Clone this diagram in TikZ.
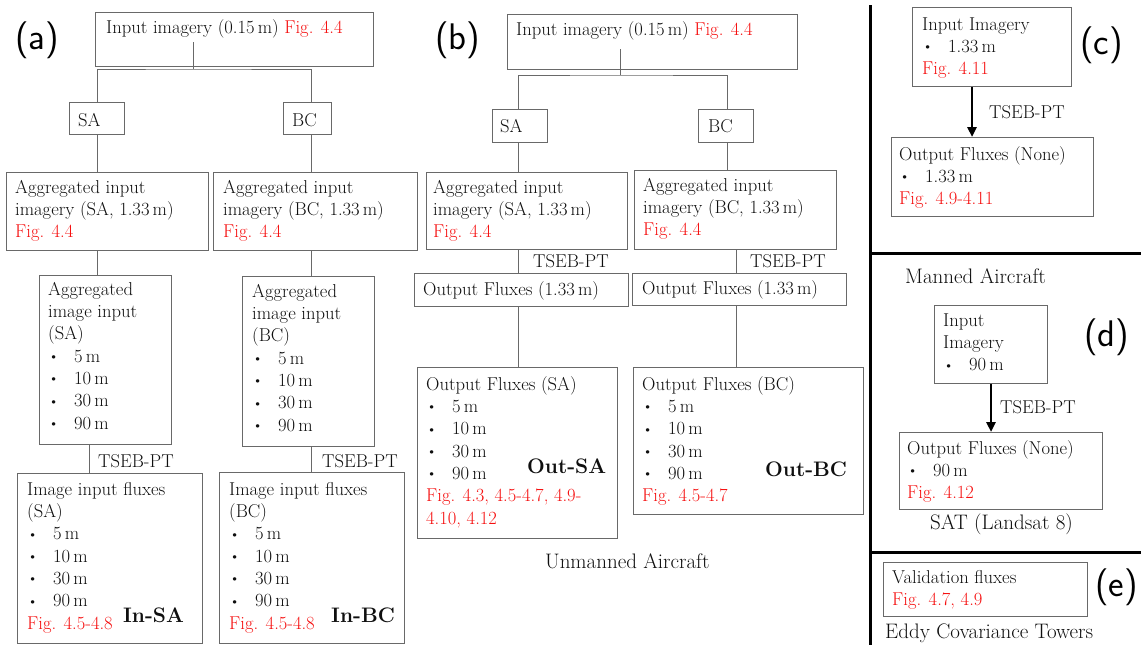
\documentclass[tikz,border=0pt]{standalone}
\usetikzlibrary{arrows.meta}
\definecolor{ink}{RGB}{15,15,15}
\definecolor{figred}{RGB}{245,15,15}
\definecolor{framegray}{RGB}{105,105,105}
% strut that fixes the height of a first line
\newcommand{\tsr}{\rule{0pt}{14pt}}
\newcommand{\redfig}[1]{\textcolor{figred}{#1}}
\newcommand{\itm}[1]{\makebox[26pt][l]{\raisebox{0.6pt}{\fontsize{15.5}{15.5}\selectfont\textbullet}}#1}
\tikzset{
  box/.style={draw=framegray, line width=1pt, inner sep=0pt, anchor=north west},
  link/.style={draw=framegray, line width=1pt},
  body/.style={inner sep=0pt, anchor=north west, align=left, text=ink,
    font=\fontsize{18.6}{22.3}\selectfont},
  lbl/.style={inner sep=0pt, anchor=base west, text=ink,
    font=\fontsize{18.6}{22.3}\selectfont},
  boldtag/.style={inner sep=0pt, anchor=base west, text=ink,
    font=\bfseries\fontsize{21}{24}\selectfont},
  captext/.style={inner sep=0pt, anchor=base west, text=ink,
    font=\fontsize{21}{24}\selectfont},
  panel/.style={inner sep=0pt, anchor=base west, text=black,
    font=\sffamily\fontsize{37}{40}\selectfont},
  sepline/.style={line width=3pt, black},
  flow/.style={line width=2.6pt, black, -{Triangle[length=10pt,width=9pt]}}
}
\begin{document}
\begin{tikzpicture}[x=1pt,y=-1pt]
\useasboundingbox (0,0) rectangle (1141,645);

% ---------------- (a) ----------------
\node[panel] (a-tag) at (15,49) {(a)};
\node[box, minimum width=278, minimum height=54] (a-in) at (95,12) {};
\node[box, minimum width=55, minimum height=32] (a-sa) at (69,102) {};
\node[box, minimum width=48, minimum height=32] (a-bc) at (283,102) {};
\node[box, minimum width=202, minimum height=78] (a-agSA) at (6,172) {};
\node[box, minimum width=204, minimum height=78] (a-agBC) at (213,172) {};
\node[box, minimum width=132, minimum height=169] (a-imSA) at (39,275) {};
\node[box, minimum width=132, minimum height=170] (a-imBC) at (242,276) {};
\node[box, minimum width=185, minimum height=170] (a-flSA) at (17,473) {};
\node[box, minimum width=185, minimum height=171] (a-flBC) at (219,472) {};

\coordinate (a-stem) at (193,42);
\coordinate (a-split) at (193,69);
\coordinate (a-colL) at (97,0);
\coordinate (a-colR) at (311,0);
\coordinate (a-tL) at (89,0);
\draw[link] (a-stem) -- (a-split);
\draw[link] (a-sa.north -| a-colL) |- (a-split) -| (a-bc.north -| a-colR);
\draw[link] (a-sa.south -| a-colL) -- (a-agSA.north -| a-colL);
\draw[link] (a-bc.south -| a-colR) -- (a-agBC.north -| a-colR);
\draw[link] (a-agSA.south -| a-colL) -- (a-imSA.north -| a-colL);
\draw[link] (a-agBC.south -| a-colR) -- (a-imBC.north -| a-colR);
\draw[link] (a-imSA.south -| a-tL) -- (a-flSA.north -| a-tL);
\draw[link] (a-imBC.south -| a-colR) -- (a-flBC.north -| a-colR);

\node[lbl] (a-in-t) at (106,33) {Input imagery (0.15\,m) \redfig{Fig. 4.4}};
\node[lbl] (a-sa-t) at (78,126) {SA};
\node[lbl] (a-bc-t) at (292,126) {BC};
\node[body] (a-agSA-t) at (15,179) {\tsr Aggregated input\\imagery (SA, 1.33\,m)\\\redfig{Fig. 4.4}};
\node[body] (a-agBC-t) at (223,179) {\tsr Aggregated input\\imagery (BC, 1.33\,m)\\\redfig{Fig. 4.4}};
\node[body] (a-imSA-t) at (48,281) {\tsr Aggregated\\image input\\(SA)\\\itm{5\,m}\\\itm{10\,m}\\\itm{30\,m}\\\itm{90\,m}};
\node[body] (a-imBC-t) at (252,283) {\tsr Aggregated\\image input\\(BC)\\\itm{5\,m}\\\itm{10\,m}\\\itm{30\,m}\\\itm{90\,m}};
\node[lbl] (a-tsL) at (98,467) {TSEB-PT};
\node[lbl] (a-tsR) at (322,467) {TSEB-PT};
\node[body] (a-flSA-t) at (27,481) {\tsr Image input fluxes\\(SA)\\\itm{5\,m}\\\itm{10\,m}\\\itm{30\,m}\\\itm{90\,m}\\\redfig{Fig. 4.5-4.8}};
\node[body] (a-flBC-t) at (229,481) {\tsr Image input fluxes\\(BC)\\\itm{5\,m}\\\itm{10\,m}\\\itm{30\,m}\\\itm{90\,m}\\\redfig{Fig. 4.5-4.8}};
\node[boldtag] (a-inSA) at (123,622) {In-SA};
\node[boldtag] (a-inBC) at (331,622) {In-BC};

% ---------------- (b) ----------------
\node[panel] (b-tag) at (435,49) {(b)};
\node[box, minimum width=290, minimum height=55] (b-in) at (507,14) {};
\node[box, minimum width=55, minimum height=33] (b-sa) at (492,109) {};
\node[box, minimum width=55, minimum height=33] (b-bc) at (698,109) {};
\node[box, minimum width=201, minimum height=77] (b-agSA) at (426,172) {};
\node[box, minimum width=202, minimum height=79] (b-agBC) at (634,170) {};
\node[box, minimum width=214, minimum height=33] (b-oSA) at (414,273) {};
\node[box, minimum width=214, minimum height=32] (b-oBC) at (632,273) {};
\node[box, minimum width=200, minimum height=171] (b-flSA) at (417,367) {};
\node[box, minimum width=230, minimum height=147] (b-flBC) at (633,367) {};

\coordinate (b-stem) at (620,49);
\coordinate (b-split) at (620,75);
\coordinate (b-colL) at (518,0);
\coordinate (b-colR) at (727,0);
\coordinate (b-colR2) at (736,0);
\draw[link] (b-stem) -- (b-split);
\draw[link] (b-sa.north -| b-colL) |- (b-split) -| (b-bc.north -| b-colR);
\draw[link] (b-sa.south -| b-colL) -- (b-agSA.north -| b-colL);
\draw[link] (b-bc.south -| b-colR) -- (b-agBC.north -| b-colR);
\draw[link] (b-agSA.south -| b-colL) -- (b-oSA.north -| b-colL);
\draw[link] (b-agBC.south -| b-colR2) -- (b-oBC.north -| b-colR2);
\draw[link] (b-oSA.south -| b-colL) -- (b-flSA.north -| b-colL);
\draw[link] (b-oBC.south -| b-colR2) -- (b-flBC.north -| b-colR2);

\node[lbl] (b-in-t) at (516,35) {Input imagery (0.15\,m) \redfig{Fig. 4.4}};
\node[lbl] (b-sa-t) at (500,132) {SA};
\node[lbl] (b-bc-t) at (708,132) {BC};
\node[body] (b-agSA-t) at (433,179) {\tsr Aggregated input\\imagery (SA, 1.33\,m)\\\redfig{Fig. 4.4}};
\node[body] (b-agBC-t) at (643,177) {\tsr Aggregated input\\imagery (BC, 1.33\,m)\\\redfig{Fig. 4.4}};
\node[lbl] (b-tsL) at (533,267) {TSEB-PT};
\node[lbl] (b-tsR) at (750,267) {TSEB-PT};
\node[lbl] (b-oSA-t) at (423,295) {Output Fluxes (1.33\,m)};
\node[lbl] (b-oBC-t) at (642,294) {Output Fluxes (1.33\,m)};
\node[body] (b-flSA-t) at (426,376) {\tsr Output Fluxes (SA)\\\itm{5\,m}\\\itm{10\,m}\\\itm{30\,m}\\\itm{90\,m}\\\redfig{Fig. 4.3, 4.5-4.7, 4.9-}\\\redfig{4.10, 4.12}};
\node[body] (b-flBC-t) at (642,376) {\tsr Output Fluxes (BC)\\\itm{5\,m}\\\itm{10\,m}\\\itm{30\,m}\\\itm{90\,m}\\\redfig{Fig. 4.5-4.7}};
\node[boldtag] (b-outSA) at (527,473) {Out-SA};
\node[boldtag] (b-outBC) at (765,476) {Out-BC};
\node[captext] (b-cap) at (545,568) {Unmanned Aircraft};

% ---------------- separators ----------------
\draw[sepline] (870,5) -- (870,645);
\draw[sepline] (870,253) -- (1141,253);
\draw[sepline] (870,552) -- (1141,552);

% ---------------- (c) ----------------
\node[panel] (c-tag) at (1080,54) {(c)};
\node[box, minimum width=159, minimum height=79] (c-in) at (912,7) {};
\node[box, minimum width=202, minimum height=79] (c-out) at (891,137) {};
\coordinate (c-ax) at (972,0);
\draw[flow] (c-in.south -| c-ax) -- (c-out.north -| c-ax);
\node[body] (c-in-t) at (922,16) {\tsr Input Imagery\\\itm{1.33\,m}\\\redfig{Fig. 4.11}};
\node[lbl] (c-ts) at (989,118) {TSEB-PT};
\node[body] (c-out-t) at (899,146) {\tsr Output Fluxes (None)\\\itm{1.33\,m}\\\redfig{Fig. 4.9-4.11}};

% ---------------- (d) ----------------
\node[captext] (d-cap1) at (905,283) {Manned Aircraft};
\node[panel] (d-tag) at (1084,346) {(d)};
\node[box, minimum width=113, minimum height=78] (d-in) at (934,305) {};
\node[box, minimum width=203, minimum height=77] (d-out) at (899,432) {};
\coordinate (d-ax) at (991,0);
\draw[flow] (d-in.south -| d-ax) -- (d-out.north -| d-ax);
\node[body] (d-in-t) at (943,312) {\tsr Input\\Imagery\\\itm{90\,m}};
\node[lbl] (d-ts) at (1000,413) {TSEB-PT};
\node[body] (d-out-t) at (907,440) {\tsr Output Fluxes (None)\\\itm{90\,m}\\\redfig{Fig. 4.12}};
\node[captext] (d-cap2) at (930,529) {SAT (Landsat 8)};

% ---------------- (e) ----------------
\node[panel] (e-tag) at (1095,596) {(e)};
\node[box, minimum width=204, minimum height=54] (e-val) at (883,562) {};
\node[body] (e-val-t) at (892,569) {\tsr Validation fluxes\\\redfig{Fig. 4.7, 4.9}};
\node[captext] (e-cap) at (885,638) {Eddy Covariance Towers};
\end{tikzpicture}
\end{document}
